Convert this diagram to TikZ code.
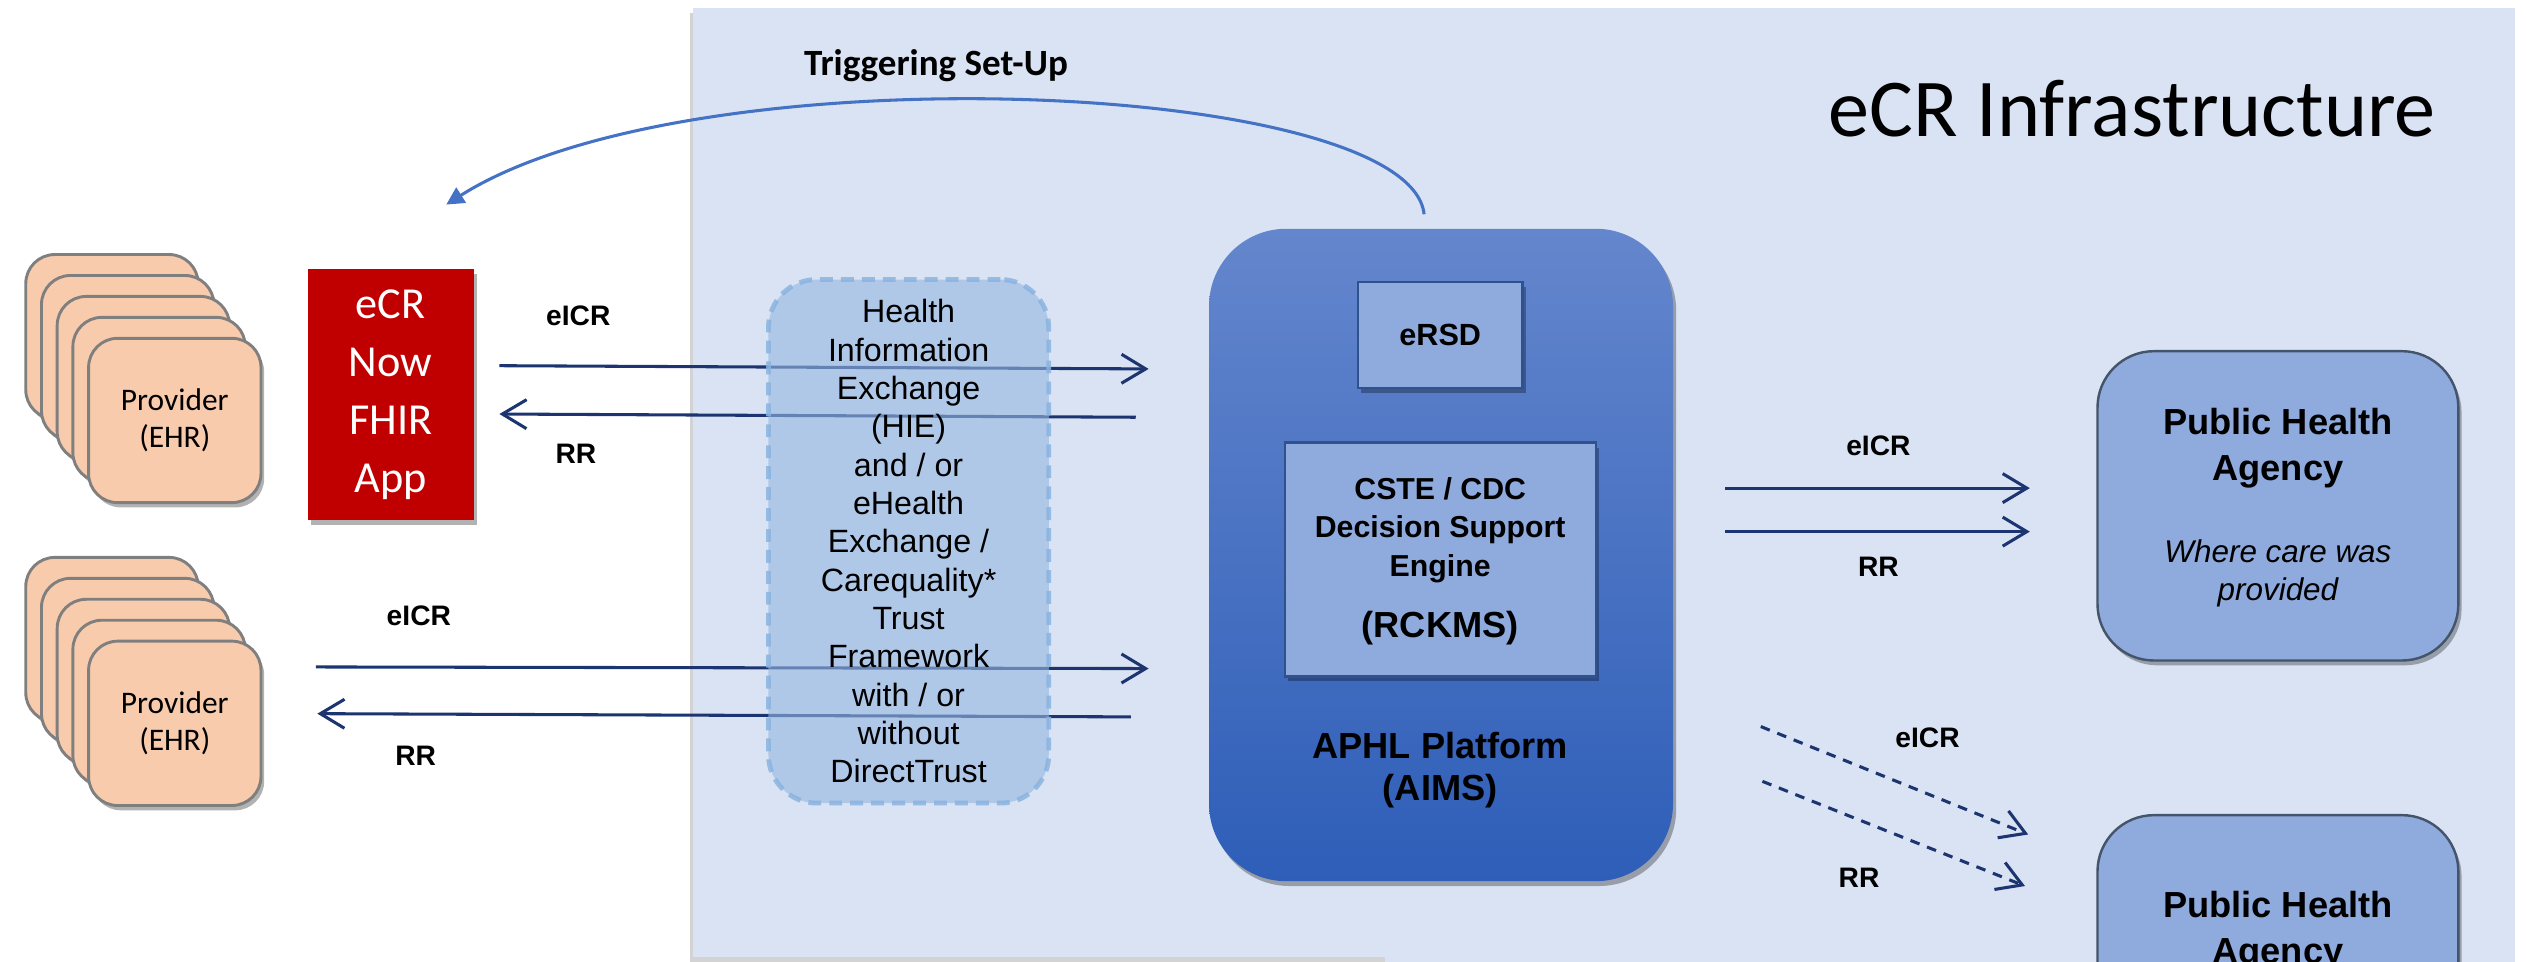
\documentclass[tikz,border=0pt]{standalone}
\usepackage{fontspec}
\setmainfont{Liberation Sans}
\newfontfamily\calibri{Carlito}
\usetikzlibrary{arrows.meta,shadows,positioning}

\definecolor{panelblue}{HTML}{DAE3F3}
\definecolor{provfill}{HTML}{F8CBAD}
\definecolor{provgray}{HTML}{7F7F7F}
\definecolor{appred}{HTML}{C00000}
\definecolor{navy}{HTML}{1C3570}
\definecolor{setupblue}{HTML}{4472C4}
\definecolor{hiefill}{HTML}{94B6E1}
\definecolor{hieedge}{HTML}{8AB4E0}
\definecolor{aimstop}{HTML}{6486CD}
\definecolor{aimsbot}{HTML}{2E5EB8}
\definecolor{innerfill}{HTML}{8FAADC}
\definecolor{innerline}{HTML}{2F528F}
\definecolor{agencyline}{HTML}{44546A}

\tikzset{
    softshadow/.style={drop shadow={shadow xshift=2pt,shadow yshift=-3pt,opacity=.3,fill=black}},
    provider/.style={draw=provgray, line width=1.8pt, fill=provfill, rounded corners=18pt,
        minimum width=107pt, minimum height=102pt, inner sep=0pt, softshadow, align=center,
        font=\calibri\fontsize{19.5}{23}\selectfont},
    appbox/.style={fill=appred, minimum width=103pt, minimum height=156pt, softshadow,
        align=center, text=white, font=\calibri\fontsize{27.5}{36}\selectfont},
    hiebox/.style={draw=hieedge, fill=hiefill, fill opacity=.6, draw opacity=.85, text opacity=1,
        line width=3pt, dash pattern=on 8pt off 5pt, rounded corners=30pt,
        minimum width=174pt, minimum height=325pt, align=center,
        font=\fontsize{20}{23.8}\selectfont},
    platform/.style={top color=aimstop, bottom color=aimsbot, rounded corners=48pt,
        minimum width=288pt, minimum height=405pt, softshadow},
    inner/.style={draw=innerline, line width=1.5pt, fill=innerfill, softshadow},
    agency/.style={draw=agencyline, line width=1.5pt, fill=innerfill, rounded corners=35pt,
        minimum width=224pt, minimum height=192pt, softshadow},
    lbl/.style={font=\bfseries\fontsize{17.5}{21}\selectfont},
    flow/.style={draw=navy, line width=1.9pt, -{Straight Barb[length=15pt,width=18pt]}},
    dflow/.style={flow, dash pattern=on 6pt off 5pt},
    setup/.style={draw=setupblue, line width=1.9pt, -{Triangle[length=11pt,width=11pt]}},
}

\begin{document}
\begin{tikzpicture}[x=1pt,y=-1pt]
    \useasboundingbox (0,0) rectangle (1568,597);

    % infrastructure panel
    \fill[panelblue, drop shadow={shadow xshift=-2pt,shadow yshift=-3pt,opacity=.35}] (430,5) rectangle (1561,594);
    \fill[panelblue] (860,590) rectangle (1561,600);
    \node[font=\calibri\fontsize{51}{60}\selectfont, anchor=base] (title) at (1323.5,85) {eCR Infrastructure};
    \node[font=\calibri\bfseries\fontsize{23}{27}\selectfont] (trig) at (581,41) {Triggering Set-Up};

    % providers
    \foreach \i in {0,...,3}
        {\node[provider] (pa\i) at (69.5+9.75*\i,209+13*\i) {};}
    \node[provider] (pa4) at (108.5,261) {Provider\\(EHR)};
    \foreach \i in {0,...,3}
        {\node[provider] (pb\i) at (69.5+9.75*\i,397+13*\i) {};}
    \node[provider] (pb4) at (108.5,449) {Provider\\(EHR)};

    \node[appbox] (app) at (242.5,245) {eCR\\Now\\FHIR\\App};

    % left exchange
    \coordinate (a1) at (310,227);  \coordinate (b1) at (713,229);
    \coordinate (b2) at (705,259);  \coordinate (a2) at (310,257);
    \coordinate (a3) at (196,414);  \coordinate (b3) at (713,415);
    \coordinate (b4) at (702,445);  \coordinate (a4) at (197,443);
    \draw[flow] (a1) -- (b1);
    \draw[flow] (b2) -- (a2);
    \draw[flow] (a3) -- (b3);
    \draw[flow] (b4) -- (a4);
    \node[lbl] (l1) at (359,196) {eICR};
    \node[lbl] (l2) at (357.5,282) {RR};
    \node[lbl] (l3) at (260,382) {eICR};
    \node[lbl] (l4) at (258,469) {RR};

    \node[hiebox] (hie) at (564,336) {Health\\Information\\Exchange\\(HIE)\\and / or\\eHealth\\Exchange /\\Carequality*\\Trust\\Framework\\with / or\\without\\DirectTrust};

    % triggering set-up
    \coordinate (ts) at (884,133);
    \coordinate (te) at (277,127);
    \draw[setup] (ts) .. controls (875,50) and (430,30) .. (te);

    % APHL platform
    \node[platform] (aims) at (894.5,344.5) {};
    \node[inner, minimum width=102pt, minimum height=66pt, font=\bfseries\fontsize{19}{23}\selectfont] (ersd) at (894,208) {eRSD};
    \node[inner, minimum width=193pt, minimum height=145pt] (cste) at (894.3,347.3) {};
    \node[font=\bfseries\fontsize{18.8}{24}\selectfont, align=center] (dse) at (894,329) {CSTE / CDC\\Decision Support\\Engine};
    \node[font=\bfseries\fontsize{22.5}{27}\selectfont] (rckms) at (894,390) {(RCKMS)};
    \node[font=\bfseries\fontsize{22.5}{26.5}\selectfont, align=center] (aimslbl) at (894,478) {APHL Platform\\(AIMS)};

    % to public health
    \coordinate (c1) at (1071,303);  \coordinate (d1) at (1260,303);
    \coordinate (c2) at (1071,330);  \coordinate (d2) at (1260,330);
    \coordinate (c3) at (1093,451);  \coordinate (d3) at (1259,518);
    \coordinate (c4) at (1094,485);  \coordinate (d4) at (1257,550);
    \draw[flow] (c1) -- (d1);
    \draw[flow] (c2) -- (d2);
    \draw[dflow] (c3) -- (d3);
    \draw[dflow] (c4) -- (d4);
    \node[lbl] (l5) at (1166,277) {eICR};
    \node[lbl] (l6) at (1166,352) {RR};
    \node[lbl] (l7) at (1196.5,458) {eICR};
    \node[lbl] (l8) at (1154,545) {RR};

    \node[agency] (pha1) at (1414,314) {};
    \node[font=\bfseries\fontsize{22.5}{28.5}\selectfont, align=center] (pha1t) at (1414,278) {Public Health\\Agency};
    \node[font=\itshape\fontsize{19.5}{23.5}\selectfont, align=center] (pha1w) at (1414,356) {Where care was\\provided};
    \node[agency] (pha2) at (1414,602) {};
    \node[font=\bfseries\fontsize{22.5}{28.5}\selectfont, align=center] (pha2t) at (1414,578) {Public Health\\Agency};
\end{tikzpicture}
\end{document}
